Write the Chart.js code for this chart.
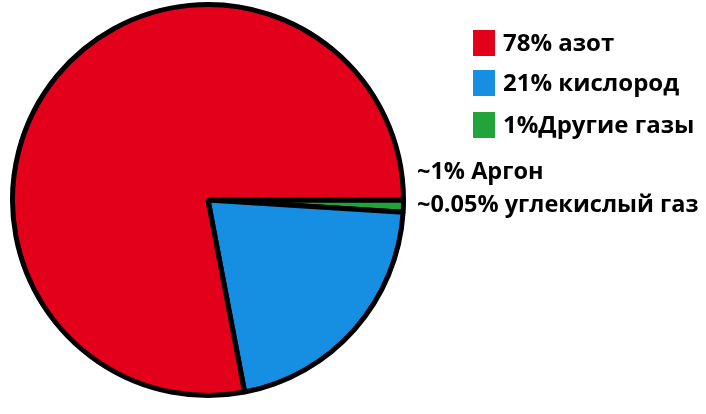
<!DOCTYPE html>
<html>
<head>
<meta charset="utf-8">
<script src="https://cdn.jsdelivr.net/npm/chart.js@4"></script>
<style>
  html, body { margin: 0; padding: 0; background: #fff; }
  #wrap { width: 706px; height: 414px; position: relative; }
</style>
</head>
<body>
<div id="wrap"><canvas id="airChart"></canvas></div>
<script>
// legend order (top to bottom)
var gases = ["азот", "кислород", "Другие газы"];
var percents = [78, 21, 1];
var legendTexts = ["78% азот", "21% кислород", "1%Другие газы"];
var colors = ["#e3001b", "#168ee2", "#23a43b"];
// side notes next to the small slice
var notes = ["~1% Аргон", "~0.05% углекислый газ"];

var FONT = "bold 24px 'Open Sans', sans-serif";
var NOTE_FONT = "bold 23.5px 'Open Sans', sans-serif";

// pie goes clockwise from 3 o'clock: green, blue, red
var drawOrder = [2, 1, 0];

var sideLegend = {
  id: "sideLegend",
  afterDraw: function(chart) {
    var c = chart.ctx;
    var boxTops = [30, 70, 112];
    c.save();
    c.font = FONT;
    c.textBaseline = "middle";
    for (var i = 0; i < legendTexts.length; i++) {
      c.fillStyle = colors[i];
      c.fillRect(473, boxTops[i], 22, 26);
      c.fillStyle = "#000";
      c.fillText(legendTexts[i], 503, boxTops[i] + 14);
    }
    c.font = NOTE_FONT;
    var noteY = [172, 205];
    for (var j = 0; j < notes.length; j++) {
      c.fillText(notes[j], 417, noteY[j]);
    }
    c.restore();
  }
};

new Chart(document.getElementById("airChart"), {
  type: "pie",
  data: {
    labels: drawOrder.map(function(i) { return gases[i]; }),
    datasets: [{
      data: drawOrder.map(function(i) { return percents[i]; }),
      backgroundColor: drawOrder.map(function(i) { return colors[i]; }),
      borderColor: "#000",
      borderWidth: 5,
      hoverOffset: 0
    }]
  },
  options: {
    responsive: true,
    maintainAspectRatio: false,
    animation: false,
    rotation: 90,
    layout: { padding: { left: 10, top: 2, right: 300, bottom: 16 } },
    plugins: {
      legend: { display: false },
      tooltip: { enabled: false }
    }
  },
  plugins: [sideLegend]
});
</script>
</body>
</html>
